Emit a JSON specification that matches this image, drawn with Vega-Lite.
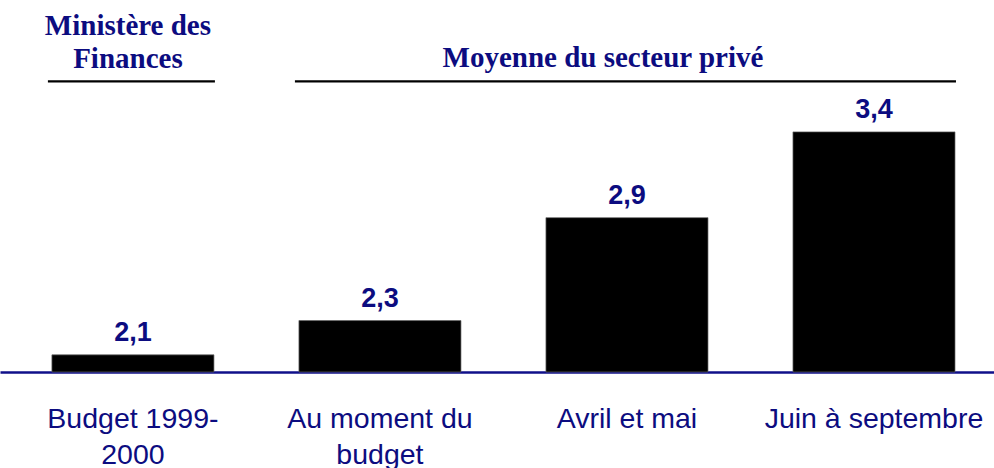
{
  "$schema": "https://vega.github.io/schema/vega-lite/v6.json",
  "width": 994,
  "height": 372,
  "autosize": {"type": "none"},
  "padding": {"left": 0, "top": 0, "right": 0, "bottom": 96},
  "background": "white",
  "config": {"view": {"stroke": null}},
  "datasets": {
    "bars": [
      {"period": "Budget 1999-\n2000", "value": 2.1, "label": "2,1"},
      {"period": "Au moment du\nbudget", "value": 2.3, "label": "2,3"},
      {"period": "Avril et mai", "value": 2.9, "label": "2,9"},
      {"period": "Juin à septembre", "value": 3.4, "label": "3,4"}
    ],
    "headers": [
      {"group": "ministere", "header": "Ministère des\nFinances", "from": "Budget 1999-\n2000", "to": "Budget 1999-\n2000", "center": "Budget 1999-\n2000"},
      {"group": "prive", "header": "Moyenne du secteur privé", "from": "Au moment du\nbudget", "to": "Juin à septembre", "center": "Avril et mai"}
    ]
  },
  "encoding": {
    "x": {
      "field": "period",
      "type": "nominal",
      "sort": null,
      "scale": {
        "domain": ["Budget 1999-\n2000", "Au moment du\nbudget", "Avril et mai", "Juin à septembre"],
        "paddingInner": 0.344,
        "paddingOuter": 0.184,
        "align": 0.571
      },
      "axis": {
        "title": null,
        "labelAngle": 0,
        "ticks": false,
        "tickSize": 0,
        "domain": true,
        "domainColor": "#10108a",
        "domainWidth": 2.5,
        "labelExpr": "split(datum.label, '\\n')",
        "labelFont": "Liberation Sans",
        "labelFontSize": 28.5,
        "labelColor": "#0c0c80",
        "labelBaseline": "alphabetic",
        "labelPadding": 55,
        "labelLineHeight": 36,
        "labelAlign": "center",
        "labelLimit": 0,
        "labelOverlap": false
      }
    }
  },
  "layer": [
    {
      "data": {"name": "bars"},
      "mark": {"type": "bar", "color": "black", "stroke": "#666666", "strokeWidth": 0.7},
      "encoding": {
        "y": {"field": "value", "type": "quantitative", "scale": {"domain": [2.0, 4.169], "nice": false, "zero": false}, "axis": null},
        "y2": {"datum": 2.0}
      }
    },
    {
      "data": {"name": "bars"},
      "mark": {"type": "text", "font": "Liberation Sans", "fontWeight": "bold", "fontSize": 27, "color": "#0c0c80", "baseline": "alphabetic", "align": "center", "dy": -14},
      "encoding": {
        "y": {"field": "value", "type": "quantitative"},
        "text": {"field": "label"}
      }
    },
    {
      "data": {"name": "headers"},
      "mark": {"type": "rule", "color": "black", "strokeWidth": 2.2, "xOffset": -4, "x2Offset": 82},
      "encoding": {
        "x": {"field": "from", "type": "nominal", "bandPosition": 0},
        "x2": {"field": "to"},
        "y": {"datum": 3.694}
      }
    },
    {
      "data": {"name": "headers"},
      "transform": [{"filter": "datum.group == 'ministere'"}],
      "mark": {"type": "text", "font": "Liberation Serif", "fontWeight": "bold", "fontSize": 29, "color": "#0c0c80", "baseline": "alphabetic", "align": "center", "lineBreak": "\n", "lineHeight": 33, "dx": -5},
      "encoding": {
        "x": {"field": "center", "type": "nominal"},
        "y": {"datum": 3.965},
        "text": {"field": "header"}
      }
    },
    {
      "data": {"name": "headers"},
      "transform": [{"filter": "datum.group == 'prive'"}],
      "mark": {"type": "text", "font": "Liberation Serif", "fontWeight": "bold", "fontSize": 29, "color": "#0c0c80", "baseline": "alphabetic", "align": "center", "lineBreak": "\n", "lineHeight": 33, "dx": -24},
      "encoding": {
        "x": {"field": "center", "type": "nominal"},
        "y": {"datum": 3.778},
        "text": {"field": "header"}
      }
    }
  ]
}
